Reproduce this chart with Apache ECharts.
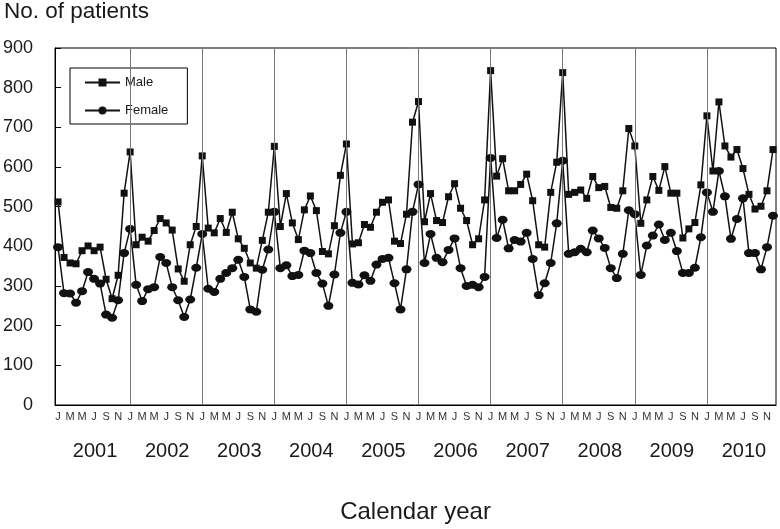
<!DOCTYPE html>
<html><head><meta charset="utf-8">
<script src="https://cdn.jsdelivr.net/npm/echarts@6/dist/echarts.min.js"></script>
<style>html,body{margin:0;padding:0;background:#fff}#c{width:780px;height:529px}</style>
</head><body><div id="c"></div>
<script>
const years = ['2001','2002','2003','2004','2005','2006','2007','2008','2009','2010'];
const monthLetters = ['J','F','M','A','M','J','J','A','S','O','N','D'];
const yTicks = { min: 0, max: 900, step: 100 };

const maleCounts = [
  512, 372, 358, 356, 389, 401, 389, 398, 317, 268, 327, 534,
  638, 404, 423, 413, 440, 470, 459, 441, 343, 312, 404, 450,
  628, 446, 434, 470, 435, 486, 419, 395, 358, 345, 415, 486,
  652, 450, 533, 459, 417, 492, 527, 490, 387, 381, 452, 579,
  658, 406, 409, 455, 448, 486, 511, 517, 413, 407, 481, 713,
  765, 462, 533, 465, 460, 525, 558, 496, 465, 404, 419, 517,
  843, 577, 621, 540, 540, 556, 582, 515, 404, 398, 536, 612,
  838, 531, 536, 542, 521, 576, 548, 551, 498, 496, 540, 697,
  653, 458, 517, 576, 541, 601, 534, 534, 421, 444, 460, 555,
  729, 590, 764, 653, 625, 644, 596, 531, 494, 501, 540, 644
];
const femaleCounts = [
  398, 282, 281, 258, 287, 335, 318, 306, 228, 220, 264, 383,
  444, 303, 262, 292, 297, 373, 358, 297, 264, 222, 266, 346,
  431, 293, 285, 318, 333, 345, 366, 323, 241, 235, 341, 392,
  487, 345, 352, 325, 328, 389, 383, 333, 306, 250, 329, 434,
  487, 308, 304, 327, 313, 354, 368, 371, 307, 241, 342, 487,
  556, 358, 431, 371, 360, 391, 420, 345, 300, 303, 297, 323,
  623, 421, 467, 395, 416, 412, 434, 368, 277, 307, 358, 458,
  616, 381, 385, 394, 385, 440, 420, 396, 345, 320, 381, 491,
  481, 328, 402, 427, 455, 416, 434, 388, 333, 333, 346, 423,
  536, 487, 590, 526, 419, 469, 521, 383, 383, 342, 398, 477
];

const categories = [];
years.forEach(y => monthLetters.forEach((m, i) => categories.push(y + '-' + (i + 1))));

const chart = echarts.init(document.getElementById('c'));
const ink = '#111';
chart.setOption({
  animation: false,
  textStyle: { fontFamily: 'Liberation Sans, Arial, Helvetica, sans-serif' },
  title: {
    text: 'No. of patients', left: 4, top: 0, padding: 0,
    textStyle: { fontSize: 22.5, fontWeight: 'normal', color: '#1a1a1a' }
  },
  legend: {
    orient: 'vertical', left: 70, top: 68,
    padding: [8, 19, 7, 14], itemGap: 15, itemWidth: 35, itemHeight: 10,
    borderColor: '#000', borderWidth: 1,
    textStyle: { fontSize: 13, color: '#1a1a1a' },
    data: ['Male', 'Female']
  },
  grid: { left: 55, right: 4, top: 48, bottom: 122, show: true, borderColor: '#000', borderWidth: 1 },
  xAxis: [
    {
      type: 'category', data: categories, boundaryGap: true,
      axisLine: { lineStyle: { color: '#000', width: 1 } },
      axisTick: { show: false },
      axisLabel: { interval: 1, formatter: (v, i) => monthLetters[i % 12], fontSize: 11, color: '#333', margin: 6 },
      splitLine: { show: false },
      name: 'Calendar year', nameLocation: 'middle', nameGap: 95,
      nameTextStyle: { fontSize: 24, color: '#1a1a1a' }
    },
    {
      type: 'category', data: years, position: 'bottom', boundaryGap: true,
      axisLine: { show: false }, axisTick: { show: false },
      axisLabel: { fontSize: 20, color: '#1a1a1a', margin: 36, padding: [0, 0, 0, 8] },
      splitLine: { show: false }
    }
  ],
  yAxis: {
    type: 'value', min: yTicks.min, max: yTicks.max, interval: yTicks.step,
    axisLine: { show: true, lineStyle: { color: '#000' } },
    axisTick: { show: true, inside: true, length: 6, lineStyle: { color: '#000' } },
    axisLabel: { fontSize: 18, color: '#1a1a1a', margin: 22 },
    splitLine: { show: false }
  },
  series: [
    {
      name: 'Male', type: 'line', data: maleCounts, xAxisIndex: 0,
      symbol: 'rect', symbolSize: 7, showAllSymbol: true, z: 3,
      lineStyle: { color: ink, width: 1.5 }, itemStyle: { color: ink },
      markLine: {
        silent: true, symbol: 'none', label: { show: false },
        lineStyle: { color: '#777', width: 1, type: 'solid' },
        emphasis: { disabled: true },
        data: years.slice(1).map(y => ({ xAxis: y + '-1' }))
      }
    },
    {
      name: 'Female', type: 'line', data: femaleCounts, xAxisIndex: 0,
      symbol: 'circle', symbolSize: [10, 8], showAllSymbol: true, z: 3,
      lineStyle: { color: ink, width: 1.5 }, itemStyle: { color: ink }
    }
  ]
});
</script></body></html>
